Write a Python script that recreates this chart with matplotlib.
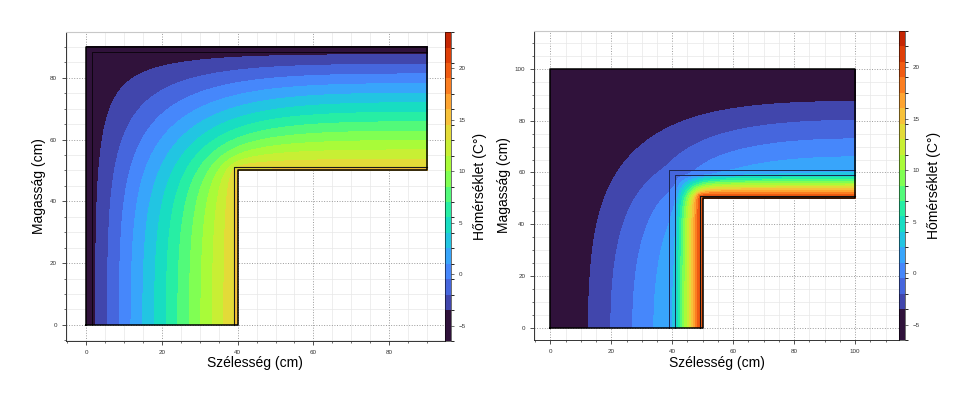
"""
L-shaped wall corner: steady 2D temperature field, two wall build-ups side by side.
Saves out.png
"""
import numpy as np
import matplotlib
matplotlib.use("Agg")
import matplotlib.pyplot as plt
from matplotlib.colors import ListedColormap, BoundaryNorm
from matplotlib.ticker import MultipleLocator

plt.rcParams["font.family"] = ["Liberation Sans", "DejaVu Sans"]

# --- values ---
# left: homogeneous wall, 40 cm
LEFT_SIZE = [90.0, 90.0]          # outer width, height (cm)
LEFT_CORNER = [40.0, 50.0]        # inner (room side) corner
LEFT_LAYERS = [1.5, 37.5, 1.0]    # thickness, outside -> inside (cm)
LEFT_K = [0.8, 0.8, 0.8]          # conductivity (W/mK)
LEFT_T = [-4.7, 14.8]             # surface temperature outside / inside

# right: masonry + gap + internal insulation + plaster, 50 cm
RIGHT_SIZE = [100.0, 100.0]
RIGHT_CORNER = [50.0, 50.0]
RIGHT_LAYERS = [39.0, 2.0, 8.0, 1.0]
RIGHT_K = [0.5, 0.3, 0.053, 0.7]
RIGHT_T = [-6.0, 20.0]

LEVELS = [-6.5, -3.5, -2.0, -0.5, 1.0, 2.5, 4.0, 5.5, 7.0, 8.5, 10.0,
          11.5, 13.0, 14.5, 16.0, 17.5, 19.0, 20.5, 22.0, 23.5]
CBAR_TICKS = [-5, 0, 5, 10, 15, 20]

# band colour: turbo sampled at the band centre, -5 C -> 0, ~26 C -> 1
_mid = 0.5 * (np.array(LEVELS[:-1]) + np.array(LEVELS[1:]))
CMAP = ListedColormap(plt.get_cmap("turbo")(np.clip((_mid + 5.0) / 31.0, 0, 1)))
NORM = BoundaryNorm(LEVELS, CMAP.N)


def solve_field(size, corner, layers, k_layers, t_surf, h=0.5, n_iter=3000, omega=1.95):
    # finite differences, red-black SOR; bottom and right cut edges adiabatic
    w, ht = size
    x = np.linspace(0, w, int(round(w / h)) + 1)
    y = np.linspace(0, ht, int(round(ht / h)) + 1)
    X, Y = np.meshgrid(x, y)
    eps = 1e-6
    inside = (X <= corner[0] + eps) | (Y >= corner[1] - eps)
    depth = np.minimum(X, ht - Y)
    edges = np.cumsum(layers)
    idx = np.clip(np.searchsorted(edges, depth, side="right"), 0, len(layers) - 1)
    k = np.asarray(k_layers, dtype=float)[idx]

    outer = inside & ((X < eps) | (Y > ht - eps))
    inner = inside & (((np.abs(X - corner[0]) < eps) & (Y <= corner[1] + eps)) |
                      ((np.abs(Y - corner[1]) < eps) & (X >= corner[0] - eps)))
    free = inside & ~outer & ~inner

    T = t_surf[0] + (t_surf[1] - t_surf[0]) * np.clip(depth / edges[-1], 0, 1)
    T[outer] = t_surf[0]
    T[inner] = t_surf[1]

    kp = np.pad(k, 1, mode="reflect")
    face = lambda a, b: 2 * a * b / (a + b)
    wE = face(k, kp[1:-1, 2:]); wW = face(k, kp[1:-1, :-2])
    wN = face(k, kp[2:, 1:-1]); wS = face(k, kp[:-2, 1:-1])
    ws = wE + wW + wN + wS

    Tp = np.pad(T, 1, mode="reflect")
    c = Tp[1:-1, 1:-1]
    parity = np.add.outer(np.arange(len(y)), np.arange(len(x))) % 2
    masks = [free & (parity == p) for p in (0, 1)]
    for _ in range(n_iter):
        for m in masks:
            Tp[0, :] = Tp[2, :]
            Tp[:, -1] = Tp[:, -3]
            gs = (wE * Tp[1:-1, 2:] + wW * Tp[1:-1, :-2] +
                  wN * Tp[2:, 1:-1] + wS * Tp[:-2, 1:-1]) / ws
            c += np.where(m, omega * (gs - c), 0.0)
    return X, Y, np.ma.masked_where(~inside, c.copy())


def draw_panel(fig, ax, cax, size, corner, layers, k_layers, t_surf, line_styles, xlim, ylim):
    X, Y, T = solve_field(size, corner, layers, k_layers, t_surf)
    cs = ax.contourf(X, Y, T, levels=LEVELS, cmap=CMAP, norm=NORM, zorder=1)

    w, ht = size
    # layer interfaces
    for d, (col, lw) in zip(np.cumsum(layers)[:-1], line_styles):
        ax.plot([d, d, w], [0, ht - d, ht - d], color=col, lw=lw, zorder=3)
    # outline of the wall
    ax.plot([0, 0, w, w, corner[0], corner[0], 0],
            [0, ht, ht, corner[1], corner[1], 0, 0], color="black", lw=1.1, zorder=4)

    ax.set_xlim(*xlim)
    ax.set_ylim(*ylim)
    ax.xaxis.set_major_locator(MultipleLocator(20))
    ax.yaxis.set_major_locator(MultipleLocator(20))
    ax.xaxis.set_minor_locator(MultipleLocator(5))
    ax.yaxis.set_minor_locator(MultipleLocator(5))
    ax.set_axisbelow(True)
    ax.grid(which="major", linestyle=":", color="#9a9a9a", lw=0.7)
    ax.grid(which="minor", linestyle="-", color="#e8e8e8", lw=0.5)
    ax.tick_params(which="major", labelsize=4.5, length=3, width=0.6, colors="#333333")
    ax.tick_params(which="minor", length=1.5, width=0.5, colors="#333333")
    for s in ("top", "right"):
        ax.spines[s].set_color("#c8c8c8")
    for s in ("left", "bottom"):
        ax.spines[s].set_color("#333333")
        ax.spines[s].set_linewidth(0.7)
    ax.set_xlabel("Szélesség (cm)", fontsize=10, labelpad=1)
    ax.set_ylabel("Magasság (cm)", fontsize=10, labelpad=3)

    cb = fig.colorbar(cs, cax=cax, ticks=CBAR_TICKS, spacing="proportional")
    cb.ax.tick_params(labelsize=4.5, length=2, width=0.5, colors="#333333")
    cb.outline.set_linewidth(0.4)
    cb.set_label("Hőmérséklet (C°)", fontsize=10, labelpad=5)


def main():
    fig = plt.figure(figsize=(9.79, 3.96), dpi=100)
    ax1 = fig.add_axes([0.0674, 0.139, 0.387, 0.780])
    cax1 = fig.add_axes([0.4546, 0.139, 0.0062, 0.780])
    ax2 = fig.add_axes([0.5458, 0.141, 0.3728, 0.781])
    cax2 = fig.add_axes([0.9186, 0.141, 0.0060, 0.781])

    draw_panel(fig, ax1, cax1, LEFT_SIZE, LEFT_CORNER, LEFT_LAYERS, LEFT_K, LEFT_T,
               [("#000000", 0.5), ("#1a1a1a", 0.8)], (-5.3, 94.7), (-5.2, 94.8))
    draw_panel(fig, ax2, cax2, RIGHT_SIZE, RIGHT_CORNER, RIGHT_LAYERS, RIGHT_K, RIGHT_T,
               [("#1b2550", 0.7), ("#1b2550", 0.7), ("#111111", 0.8)],
               (-5.25, 114.5), (-4.9, 114.8))

    fig.savefig("out.png", dpi=100)
    plt.close(fig)


if __name__ == "__main__":
    main()
